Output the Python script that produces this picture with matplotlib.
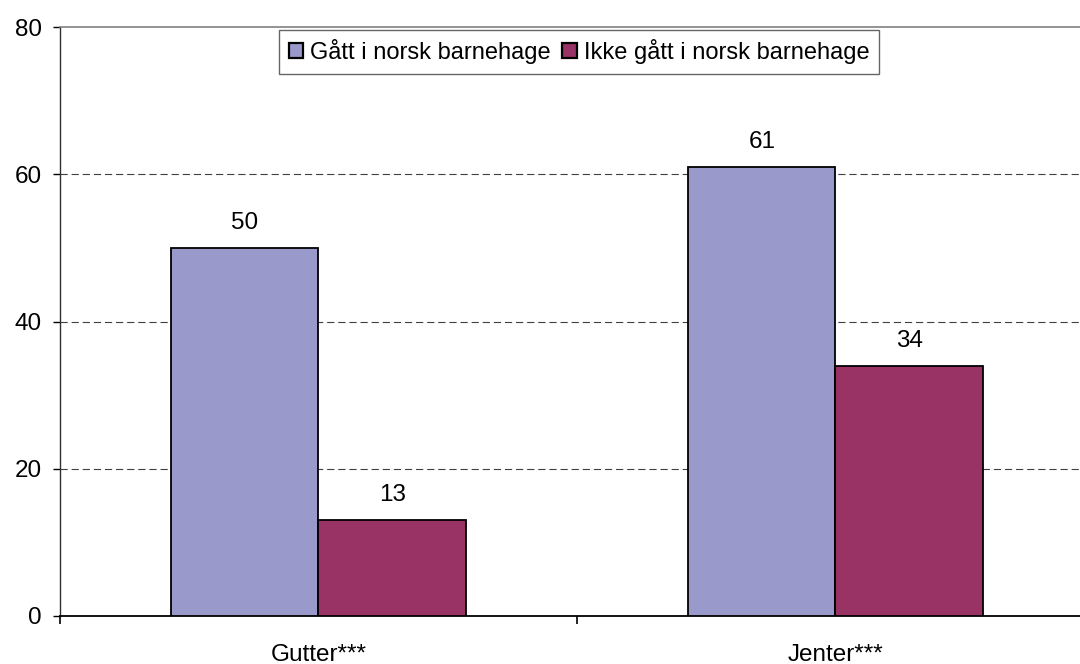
#!/usr/bin/env python3

# Grouped bar chart: share with / without Norwegian kindergarten, boys and girls.
import numpy as np
import matplotlib.pyplot as plt

plt.rcParams['font.family'] = ['Liberation Sans', 'DejaVu Sans']

# Data
categories = ["Gutter***", "Jenter***"]
series_names = ["Gått i norsk barnehage", "Ikke gått i norsk barnehage"]
gatt = [50, 61]
ikke_gatt = [13, 34]
colours = ["#9999CC", "#993366"]
y_ticks = [0, 20, 40, 60, 80]

fig = plt.figure(figsize=(10.8, 6.64), dpi=100)
# the plot area runs a little past the right edge of the picture, as in the original
ax = fig.add_axes([60 / 1080, 48 / 664, 1034 / 1080, 589 / 664])

x = np.arange(len(categories))
w = 0.285

bars1 = ax.bar(x - w / 2, gatt, w, color=colours[0], edgecolor="black",
               linewidth=1.3, label=series_names[0], zorder=3)
bars2 = ax.bar(x + w / 2, ikke_gatt, w, color=colours[1], edgecolor="black",
               linewidth=1.3, label=series_names[1], zorder=3)

# value labels above each bar
for bars in (bars1, bars2):
    for b in bars:
        ax.annotate(f"{b.get_height():g}", (b.get_x() + b.get_width() / 2, b.get_height()),
                    xytext=(0, 10), textcoords="offset points",
                    ha="center", va="bottom", fontsize=17.5)

ax.set_xlim(-0.5, 1.5)
ax.set_ylim(0, 80)
ax.set_yticks(y_ticks)
ax.tick_params(axis="y", labelsize=17.5, length=5, width=1, direction="out", pad=8)

# category labels without ticks, ticks only at group boundaries
ax.set_xticks([-0.5, 0.5, 1.5])
ax.set_xticklabels([])
ax.set_xticks(x, minor=True)
ax.set_xticklabels(categories, minor=True, fontsize=17.5)
ax.tick_params(axis="x", which="major", length=6, width=1.2, direction="out")
ax.tick_params(axis="x", which="minor", length=0, pad=20)

# dashed gridlines at 20, 40, 60
for yv in y_ticks[1:-1]:
    ax.axhline(yv, color="#404040", linewidth=0.8, linestyle=(0, (6.5, 3.5)), zorder=1)

ax.spines["top"].set_color("#808080")
ax.spines["top"].set_linewidth(1.2)
ax.spines["right"].set_visible(False)
ax.spines["left"].set_color("#303030")
ax.spines["left"].set_linewidth(1.0)
ax.spines["bottom"].set_color("black")
ax.spines["bottom"].set_linewidth(1.3)

leg = ax.legend(loc="upper center", bbox_to_anchor=(0.502, 1.0), ncol=2, fontsize=17,
                frameon=True, fancybox=False, handlelength=0.6, handleheight=0.6,
                handletextpad=0.3, columnspacing=0.5, borderpad=0.4, borderaxespad=0.12)
leg.get_frame().set_edgecolor("#404040")
leg.get_frame().set_linewidth(1.0)
for h in leg.legend_handles:
    h.set_linewidth(1.6)

fig.savefig("out.png", dpi=100)
